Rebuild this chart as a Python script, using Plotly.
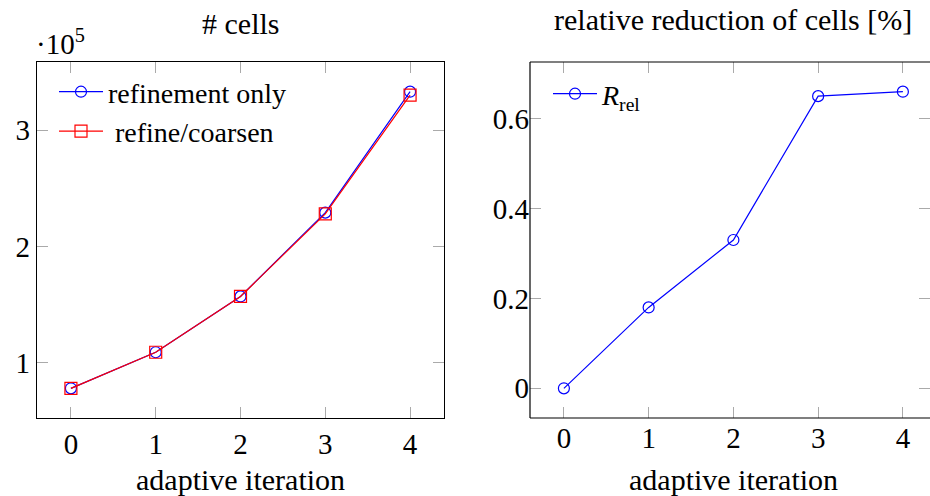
import plotly.graph_objects as go

# ---- data ----
iterations = [0, 1, 2, 3, 4]
cells_refinement_only_1e5 = [0.78, 1.09, 1.57, 2.29, 3.33]
cells_refine_coarsen_1e5 = [0.78, 1.09, 1.57, 2.28, 3.30]
r_rel = [0.0, 0.18, 0.33, 0.65, 0.66]

left_title = "# cells"
right_title = "relative reduction of cells [%]"
x_label = "adaptive iteration"
left_tickvals = [1, 2, 3]
right_tickvals = [0, 0.2, 0.4, 0.6]

FONT = "Liberation Serif, Times New Roman, DejaVu Serif, serif"
FS = 29
FS_TEXT = 30
FS_LEG = 28
W, H = 930, 496

def px_x(p):
    return p / W

def px_y(p):
    return (H - p) / H

fig = go.Figure()

fig.add_trace(go.Scatter(
    x=iterations, y=cells_refinement_only_1e5, name="refinement only",
    mode="lines+markers", xaxis="x", yaxis="y", legend="legend",
    line=dict(color="#0000ff", width=1.2),
    marker=dict(symbol="circle-open", size=11, color="#0000ff", line=dict(width=1.2)),
))
fig.add_trace(go.Scatter(
    x=iterations, y=cells_refine_coarsen_1e5, name="\u00a0refine/coarsen",
    mode="lines+markers", xaxis="x", yaxis="y", legend="legend",
    line=dict(color="#ff0000", width=1.2),
    marker=dict(symbol="square-open", size=12, color="#ff0000", line=dict(width=1.2)),
))
fig.add_trace(go.Scatter(
    x=iterations, y=r_rel, name="<i>R</i><sub>rel</sub>",
    mode="lines+markers", xaxis="x2", yaxis="y2", legend="legend2",
    line=dict(color="#0000ff", width=1.2),
    marker=dict(symbol="circle-open", size=11, color="#0000ff", line=dict(width=1.2)),
))

ydom = [px_y(418), px_y(62)]
tickfont = dict(family=FONT, size=FS, color="black")
common_axis = dict(
    showgrid=False, zeroline=False, ticks="inside", ticklen=11, tickwidth=1.2,
    tickcolor="#aaaaaa", tickfont=tickfont,
)

fig.update_layout(
    width=W, height=H, margin=dict(l=0, r=0, t=0, b=0),
    paper_bgcolor="white", plot_bgcolor="white",
    font=dict(family=FONT, size=FS, color="black"),
    xaxis=dict(domain=[px_x(37), px_x(444)], range=[-0.4, 4.4], tickvals=iterations,
               showline=True, linecolor="black", linewidth=1.2, mirror="ticks",
               anchor="y", **common_axis),
    yaxis=dict(domain=ydom, range=[0.525, 3.585], tickvals=left_tickvals,
               showline=True, linecolor="black", linewidth=1.2, mirror="ticks",
               anchor="x", **common_axis),
    xaxis2=dict(domain=[px_x(530), 1.0], range=[-0.4, 4.32], tickvals=iterations,
                showline=False, mirror="ticks", anchor="y2", **common_axis),
    yaxis2=dict(domain=ydom, range=[-0.066, 0.726], tickvals=right_tickvals,
                showline=False, mirror="ticks", anchor="x2", **common_axis),
    legend=dict(x=px_x(54), y=px_y(67), xanchor="left", yanchor="top",
                bgcolor="rgba(0,0,0,0)", borderwidth=0, itemwidth=44,
                font=dict(family=FONT, size=FS_LEG, color="black")),
    legend2=dict(x=px_x(548), y=px_y(69), xanchor="left", yanchor="top",
                 bgcolor="rgba(0,0,0,0)", borderwidth=0, itemwidth=44,
                 font=dict(family=FONT, size=FS_LEG, color="black")),
    showlegend=True,
)

# right axis box (drawn as shapes since it runs past the window edge)
for (x0, y0, x1, y1) in [(0, 0, 0, 1), (0, 0, 1, 0), (0, 1, 1, 1)]:
    fig.add_shape(type="line", xref="x2 domain", yref="y2 domain",
                  x0=x0, y0=y0, x1=x1, y1=y1, line=dict(color="black", width=1.2))

annots = [
    dict(text=left_title, x=px_x(240.5), y=px_y(23)),
    dict(text=right_title, x=px_x(733), y=px_y(20)),
    dict(text=x_label, x=px_x(240.5), y=px_y(479)),
    dict(text=x_label, x=px_x(733), y=px_y(479)),
]
for a in annots:
    fig.add_annotation(text=a["text"], x=a["x"], y=a["y"], xref="paper", yref="paper",
                       xanchor="center", yanchor="middle", showarrow=False,
                       font=dict(family=FONT, size=FS_TEXT, color="black"))
fig.add_annotation(text="\u00b710<sup>5</sup>", x=px_x(34), y=px_y(42), xref="paper", yref="paper",
                   xanchor="left", yanchor="middle", showarrow=False,
                   font=dict(family=FONT, size=FS, color="black"))

fig.write_html("out.html")
